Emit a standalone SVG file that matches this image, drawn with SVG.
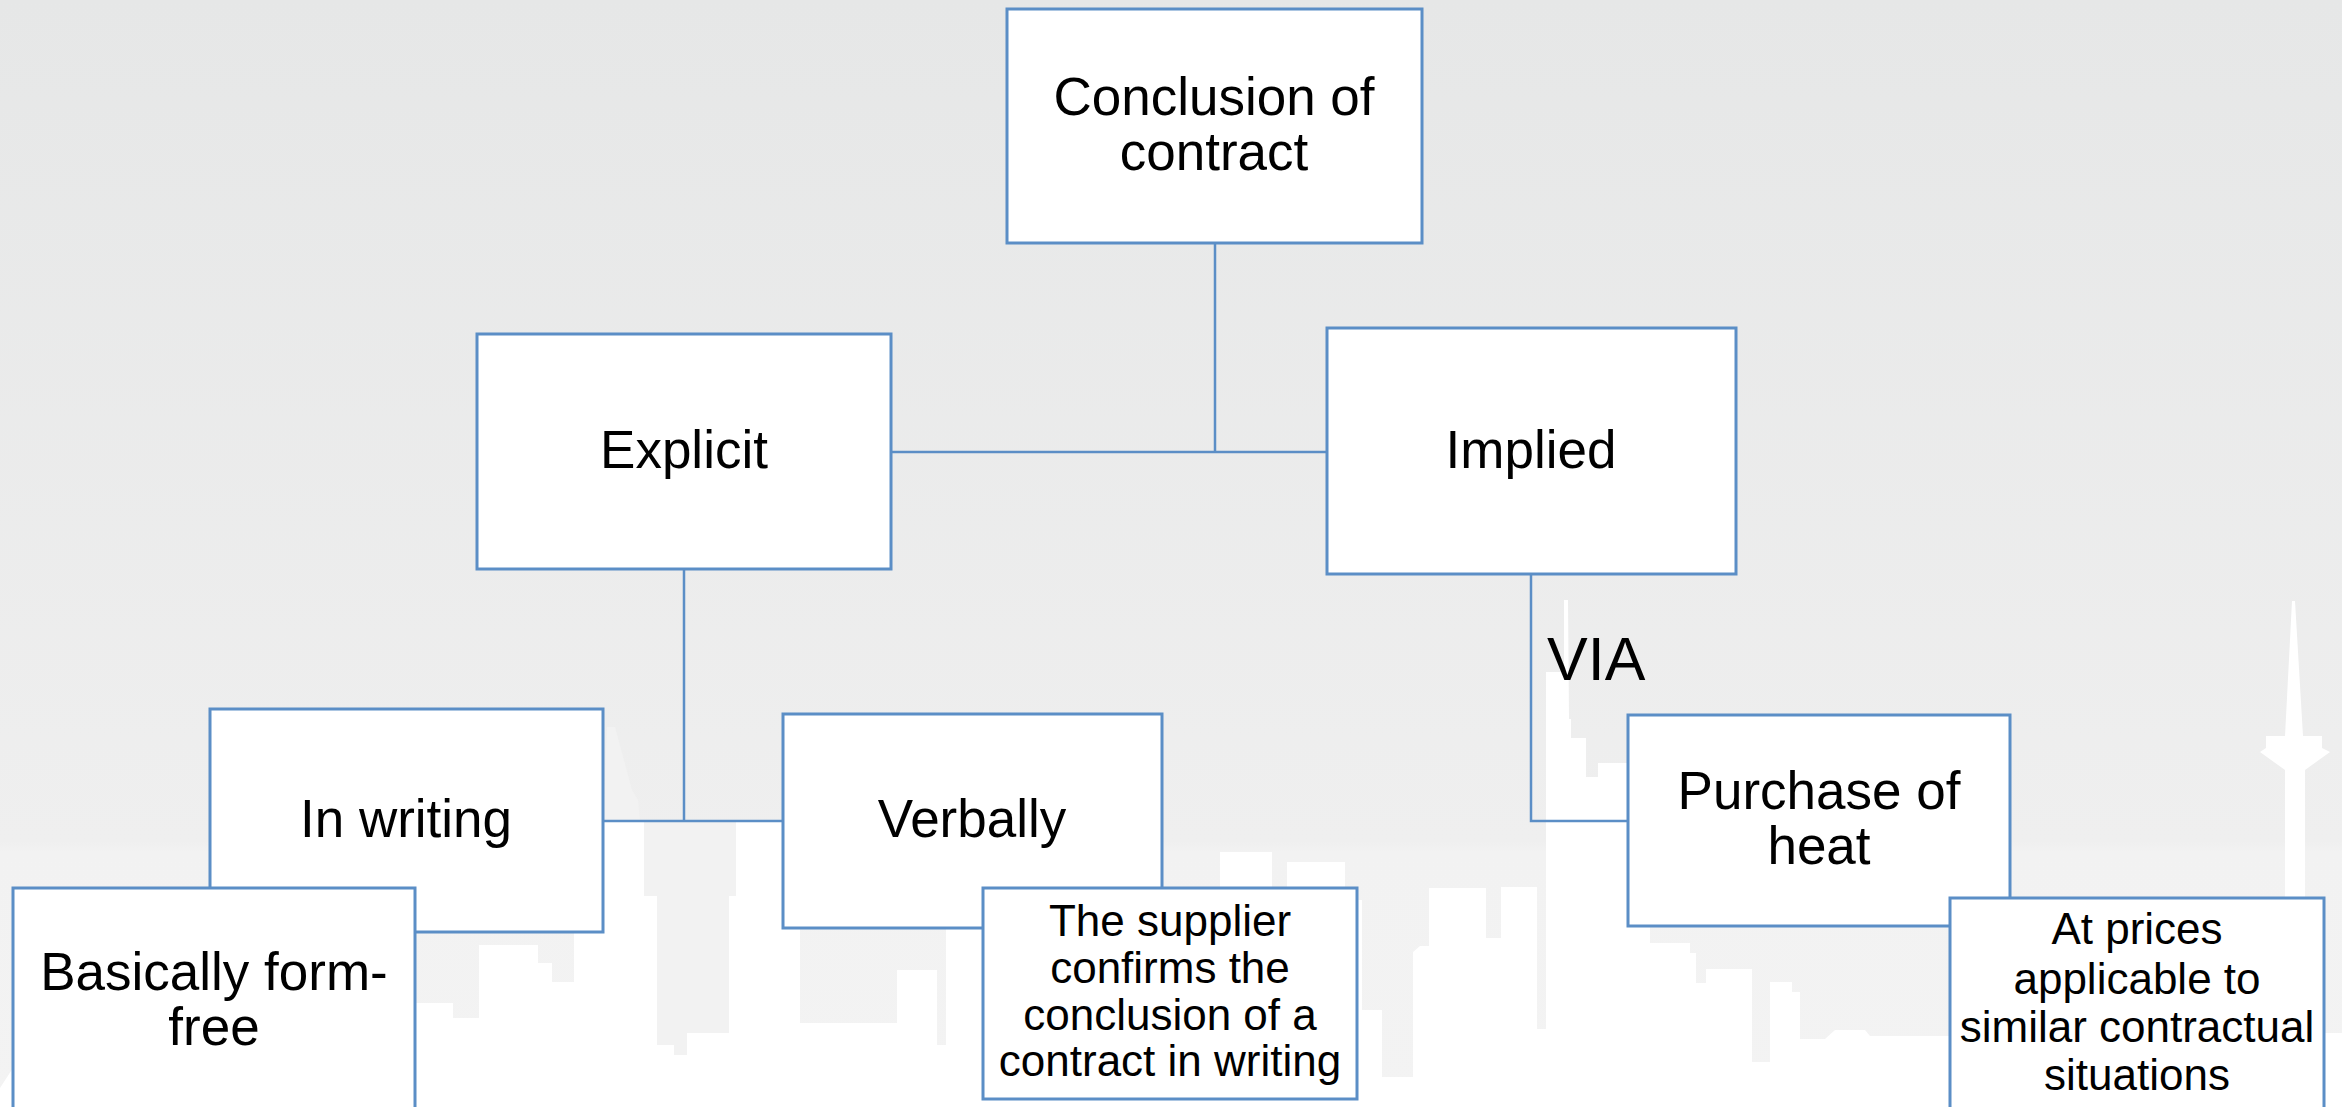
<svg xmlns="http://www.w3.org/2000/svg" width="2342" height="1107" viewBox="0 0 2342 1107">
  <defs>
    <linearGradient id="bg" x1="0" y1="0" x2="0" y2="1107" gradientUnits="userSpaceOnUse">
      <stop offset="0" stop-color="#e6e7e7"/>
      <stop offset="0.76" stop-color="#efefef"/>
      <stop offset="0.77" stop-color="#f2f2f2"/>
      <stop offset="1" stop-color="#f3f3f3"/>
    </linearGradient>
    <style>
      .box { fill: #ffffff; stroke: #5b8ec6; stroke-width: 3; }
      .conn { fill: none; stroke: #5b8ec6; stroke-width: 2.5; }
      .t { font-family: "Liberation Sans", Arial, sans-serif; fill: #000000; text-anchor: middle; }
      .big { font-size: 53px; }
      .small { font-size: 44px; }
    </style>
  </defs>

  <g id="background">
    <rect x="0" y="0" width="2342" height="1107" fill="url(#bg)"/>
    <path fill="#f2f2f2" d="M607,727 L615,727 L632,790 L638,800 L640,822 L603,822 Z"/>
    <path fill="#ffffff" d="M0,1107 L0,1088 L13,1068 L415,1068 L415,1003 L453,1003 L453,1018 L479,1018 L479,945 L538,945 L538,963 L552,963 L552,982 L574,982 L574,933 L603,933 L603,822 L783,822 L783,928 L800,928 L800,1023 L897,1023 L897,970 L937,970 L937,1045 L946,1045 L946,928 L983,928 L983,888 L1220,888 L1220,852 L1272,852 L1272,900 L1287,900 L1287,862 L1345,862 L1345,900 L1362,900 L1362,1010 L1382,1010 L1382,1077 L1413,1077 L1413,952 L1420,946 L1429,946 L1429,888 L1486,888 L1486,938 L1501,938 L1501,887 L1537,887 L1537,1029 L1546,1029 L1546,672 L1564,672 L1564,600 L1568,600 L1569,719 L1571,719 L1571,738 L1586,738 L1586,777 L1598,777 L1598,763 L1628,763 L1628,926 L1650,926 L1650,943 L1690,943 L1690,953 L1696,953 L1696,983 L1706,983 L1706,969 L1752,969 L1752,1062 L1770,1062 L1770,982 L1792,982 L1792,992 L1800,992 L1800,1039 L1825,1039 L1835,1030 L1865,1030 L1870,1036 L1950,1036 L1950,898 L2285,898 L2285,770 L2260,752 L2266,748 L2266,736 L2285,736 L2292,601 L2295,601 L2303,736 L2322,736 L2322,748 L2330,752 L2305,770 L2305,898 L2324,898 L2324,1033 L2342,1033 L2342,1107 Z"/>
    <path fill="#f2f2f2" d="M644,822 L736,822 L736,896 L729,896 L729,1033 L687,1033 L687,1055 L674,1055 L674,1045 L657,1045 L657,896 L644,896 Z"/>
  </g>

  <g id="connectors">
    <polyline class="conn" points="1215,243 1215,452"/>
    <polyline class="conn" points="891,452 1327,452"/>
    <polyline class="conn" points="684,569 684,821"/>
    <polyline class="conn" points="603,821 783,821"/>
    <polyline class="conn" points="1531,574 1531,821 1628,821"/>
    <text class="t" x="1547" y="680" font-size="61" style="text-anchor:start">VIA</text>
  </g>

  <g id="node-conclusion">
    <rect class="box" x="1007" y="9" width="415" height="234"/>
    <text class="t big" x="1214" y="115">Conclusion of</text>
    <text class="t big" x="1214" y="170">contract</text>
  </g>

  <g id="node-explicit">
    <rect class="box" x="477" y="334" width="414" height="235"/>
    <text class="t big" x="684" y="468">Explicit</text>
  </g>

  <g id="node-implied">
    <rect class="box" x="1327" y="328" width="409" height="246"/>
    <text class="t big" x="1531" y="468">Implied</text>
  </g>

  <g id="node-inwriting">
    <rect class="box" x="210" y="709" width="393" height="223"/>
    <text class="t big" x="406" y="837">In writing</text>
  </g>

  <g id="node-verbally">
    <rect class="box" x="783" y="714" width="379" height="214"/>
    <text class="t big" x="972" y="837">Verbally</text>
  </g>

  <g id="node-formfree">
    <rect class="box" x="13" y="888" width="402" height="240"/>
    <text class="t big" x="214" y="990">Basically form-</text>
    <text class="t big" x="214" y="1045">free</text>
  </g>

  <g id="node-supplier">
    <rect class="box" x="983" y="888" width="374" height="211"/>
    <text class="t small" x="1170" y="936">The supplier</text>
    <text class="t small" x="1170" y="983">confirms the</text>
    <text class="t small" x="1170" y="1030">conclusion of a</text>
    <text class="t small" x="1170" y="1076">contract in writing</text>
  </g>

  <g id="node-purchase">
    <rect class="box" x="1628" y="715" width="382" height="211"/>
    <text class="t big" x="1819" y="809">Purchase of</text>
    <text class="t big" x="1819" y="864">heat</text>
  </g>

  <g id="node-prices">
    <rect class="box" x="1950" y="898" width="374" height="230"/>
    <text class="t small" x="2137" y="944" font-size="45">At prices</text>
    <text class="t small" x="2137" y="994" font-size="45">applicable to</text>
    <text class="t small" x="2137" y="1042" font-size="45">similar contractual</text>
    <text class="t small" x="2137" y="1090" font-size="45">situations</text>
  </g>
</svg>
